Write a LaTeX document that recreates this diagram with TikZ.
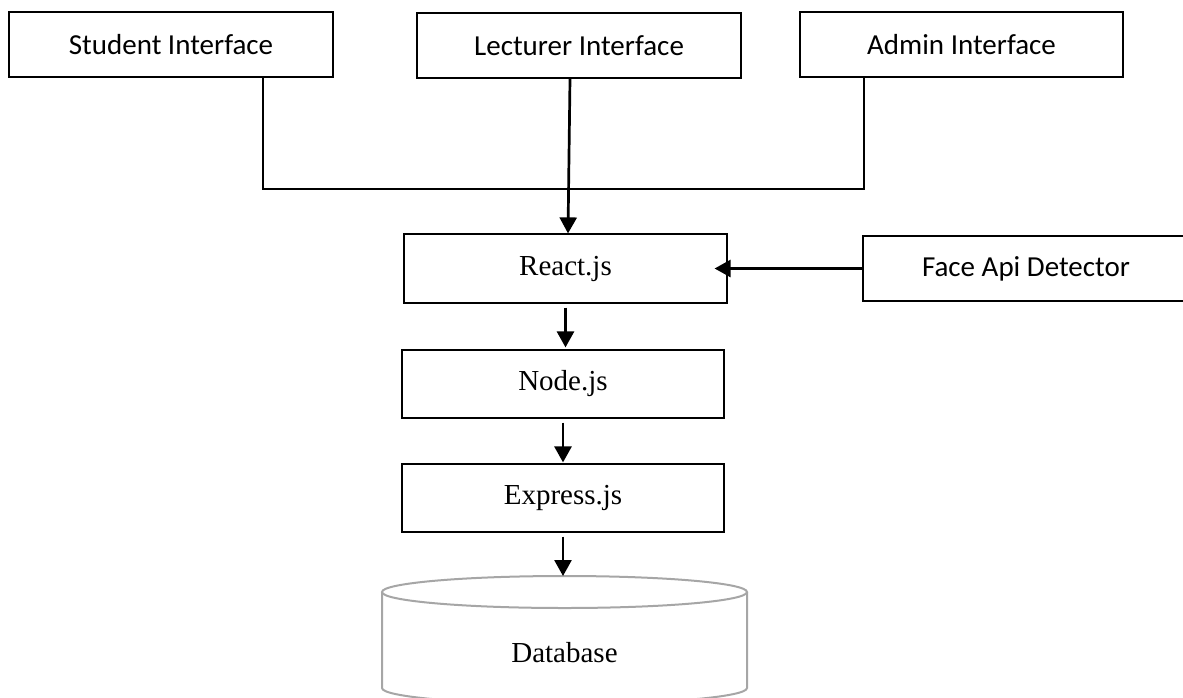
\documentclass[tikz,border=0pt]{standalone}
\usepackage{fontspec}
\setmainfont{Liberation Serif}
\newfontfamily\calfont{Carlito}
\newfontfamily\tnrfont{Liberation Serif}
\usetikzlibrary{arrows.meta,calc}
\definecolor{dbgray}{HTML}{A6A6A6}
\tikzset{
  ibox/.style={draw, line width=1.2pt, inner sep=0pt, minimum height=65pt,
    font=\calfont\fontsize{29}{34}\selectfont},
  tbox/.style={draw, line width=1.2pt, inner sep=0pt, minimum width=322pt,
    font=\tnrfont\fontsize{29}{34}\selectfont},
  arr/.style={line width=2.7pt, -{Triangle[width=17pt,length=16pt]}},
  thin/.style={line width=1.2pt},
  dbline/.style={draw=dbgray, line width=2pt}
}
\begin{document}
\begin{tikzpicture}[x=1pt,y=-1pt]
\useasboundingbox (0,0) rectangle (1183,697);
\clip (0,0) rectangle (1183,697);
% top interfaces
\node[ibox, minimum width=324pt] (stu) at (171,44.5) {Student Interface};
\node[ibox, minimum width=324pt] (lec) at (579,45.5) {Lecturer Interface};
\node[ibox, minimum width=323pt] (adm) at (961.5,44.5) {Admin Interface};
% middle stack
\node[tbox, minimum width=323pt, minimum height=69pt] (react) at (565.5,268.5) {React.js};
\node[ibox, minimum width=326pt] (face) at (1026,268.5) {Face Api Detector};
\node[tbox, minimum height=68pt] (nodejs) at (563,384) {Node.js};
\node[tbox, minimum height=68pt] (exp) at (563,498) {Express.js};
% database
\draw[dbline] (382,592) -- (382,688) arc[start angle=180, end angle=0, x radius=182.5, y radius=16] -- (747,592);
\draw[dbline, fill=white] (564.5,592) ellipse [x radius=182.5, y radius=16];
\node[font=\tnrfont\fontsize{29}{34}\selectfont] (db) at (564.5,653) {Database};
\coordinate (dbtop) at (563,576);
% connectors
\coordinate (j1) at (263,189);
\coordinate (j2) at (864,189);
\draw[thin] (stu.south -| j1) -- (j1) -- (j2) -- (adm.south -| j2);
\draw[arr] ([xshift=-9pt]lec.south) -- ([xshift=2.5pt]react.north);
\draw[arr] (face.west) -- ([xshift=-13pt]react.east);
\draw[arr] ([yshift=-4pt]react.south) -- ([yshift=2pt]react.south |- nodejs.north);
\draw[arr] ([yshift=-4pt]nodejs.south) -- ([yshift=1pt]exp.north);
\draw[arr] ([yshift=-4pt]exp.south) -- (dbtop);
\end{tikzpicture}
\end{document}
